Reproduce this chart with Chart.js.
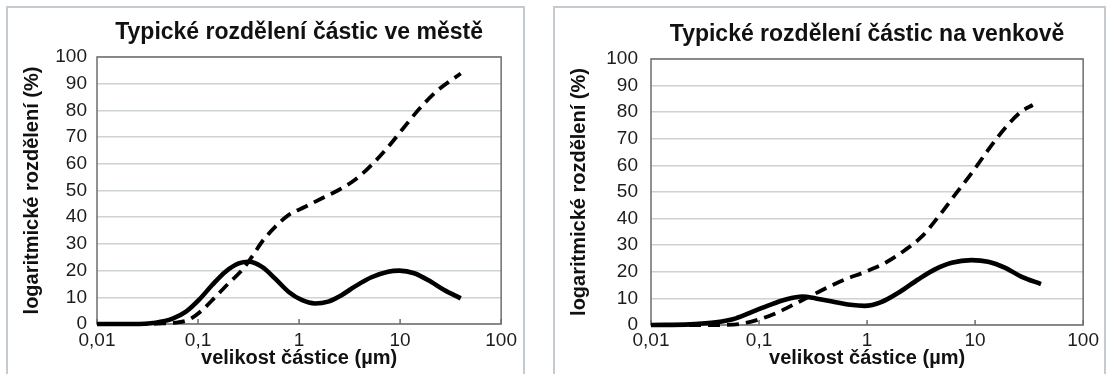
<!DOCTYPE html>
<html lang="cs">
<head>
<meta charset="utf-8">
<title>Typické rozdělení částic</title>
<script src="https://cdn.jsdelivr.net/npm/chart.js@4.4.1/dist/chart.umd.min.js"></script>
<style>
  html, body { margin: 0; padding: 0; background: #ffffff; }
  body { width: 1107px; height: 374px; position: relative; overflow: hidden; }
  .box { position: absolute; box-sizing: border-box; border: 2px solid #c4cbd0; background: #fff; }
  canvas { position: absolute; }
</style>
</head>
<body>
<div class="box" style="left:6px; top:6px; width:519px; height:380px;"></div>
<div class="box" style="left:553px; top:6px; width:553px; height:380px;"></div>
<canvas id="city" width="513" height="365" style="left:9px; top:9px;"></canvas>
<canvas id="country" width="547" height="365" style="left:556px; top:9px;"></canvas>
<script>
// Particle size axis (µm, logarithmic) and its labels
const xTickValues = [0.01, 0.1, 1, 10, 100];
const xTickLabels = ['0,01', '0,1', '1', '10', '100'];

// City: size distribution (solid)
const cityDistSizes  = [0.01, 0.0226, 0.038, 0.056, 0.076, 0.102, 0.138, 0.187, 0.253, 0.318, 0.43, 0.58, 0.785, 1.06, 1.44, 1.94, 2.63, 3.55, 5.2, 7.6, 9.85, 13.8, 20.2, 27.3, 39.8];
const cityDistValues = [0, 0, 0.5, 2, 4.6, 9, 14.6, 19.6, 22.7, 23.3, 21.4, 17, 12.1, 9, 7.7, 8.4, 10.8, 14, 17.5, 19.6, 20, 19, 15.8, 12.7, 9.6];

// City: cumulative distribution (dashed)
const cityCumSizes  = [0.01, 0.03, 0.045, 0.06, 0.082, 0.11, 0.149, 0.2, 0.273, 0.342, 0.43, 0.58, 0.785, 1.15, 1.67, 2.44, 3.55, 5.2, 7.6, 11, 16.1, 23.5, 39.8];
const cityCumValues = [0, 0, 0.2, 0.5, 1.7, 5.2, 10.2, 15.2, 20.2, 25.2, 30.8, 36.4, 40.8, 43.9, 47, 50.1, 53.9, 59.5, 66.3, 73.8, 81.3, 87.5, 93.8];

// Countryside: size distribution (solid)
const countryDistSizes  = [0.01, 0.0229, 0.04, 0.061, 0.0874, 0.1245, 0.177, 0.252, 0.335, 0.477, 0.7, 0.95, 1.35, 2.0, 2.99, 4.25, 6.06, 9.25, 13.2, 18.8, 26.7, 40.7];
const countryDistValues = [0, 0.25, 1, 2.5, 5, 7.5, 9.6, 10.7, 10, 8.8, 7.6, 7.2, 8.6, 12.4, 17.2, 20.9, 23.4, 24.4, 23.8, 21.6, 18.2, 15.4];

// Countryside: cumulative distribution (dashed)
const countryCumSizes  = [0.01, 0.04, 0.066, 0.1, 0.154, 0.219, 0.312, 0.444, 0.63, 0.966, 1.48, 2.25, 3.2, 4.57, 6.5, 9.25, 13.2, 18.8, 26.7, 34.2];
const countryCumValues = [0, 0, 0.4, 2.1, 5, 8.1, 11.3, 14.4, 17.2, 20, 23.4, 28.2, 33.2, 40.7, 48.9, 57, 65.8, 73.9, 80.2, 82.7];

const FONT = "'Liberation Sans', Arial, Helvetica, sans-serif";
Chart.defaults.font.family = FONT;
Chart.defaults.color = '#1c1c1c';

const pairs = (xs, ys) => xs.map((x, i) => ({ x: x, y: ys[i] }));

// Plot frame and short inward tick marks on the size axis
const plotFrame = {
  id: 'plotFrame',
  beforeDatasetsDraw(chart) {
    const { ctx, chartArea: a, scales: { x } } = chart;
    ctx.save();
    ctx.strokeStyle = '#6e6e6e';
    ctx.lineWidth = 1.5;
    ctx.strokeRect(a.left, a.top, a.right - a.left, a.bottom - a.top);
    ctx.beginPath();
    x.ticks.forEach(t => {
      const px = x.getPixelForValue(t.value);
      ctx.moveTo(px, a.bottom);
      ctx.lineTo(px, a.bottom - 5);
    });
    ctx.stroke();
    ctx.restore();
  }
};

function makeChart(id, title, dist, cum, lay) {
  return new Chart(document.getElementById(id), {
    type: 'line',
    data: {
      datasets: [
        {
          data: cum,
          borderColor: '#000',
          borderWidth: 3.8,
          borderDash: [12, 7],
          pointRadius: 0,
          cubicInterpolationMode: 'monotone',
          clip: false
        },
        {
          data: dist,
          borderColor: '#000',
          borderWidth: 4.6,
          pointRadius: 0,
          cubicInterpolationMode: 'monotone',
          clip: false
        }
      ]
    },
    options: {
      responsive: false,
      animation: false,
      events: [],
      layout: { padding: { left: 0, right: lay.right, top: 0, bottom: 0 } },
      plugins: {
        legend: { display: false },
        tooltip: { enabled: false },
        title: {
          display: true,
          text: title,
          fullSize: false,
          color: '#111',
          font: { size: 23, weight: 'bold', family: FONT },
          padding: { top: lay.titleTop, bottom: lay.titleBottom }
        }
      },
      scales: {
        x: {
          type: 'logarithmic',
          min: 0.01,
          max: 100,
          afterBuildTicks: s => { s.ticks = xTickValues.map(v => ({ value: v })); },
          afterFit: s => { s.height = lay.xHeight; },
          grid: { display: false, drawTicks: false },
          border: { display: false },
          ticks: {
            autoSkip: false,
            maxRotation: 0,
            padding: lay.xTickPad,
            color: '#1c1c1c',
            font: { size: 19 },
            callback: v => xTickLabels[xTickValues.indexOf(v)]
          },
          title: {
            display: true,
            text: 'velikost částice (µm)',
            color: '#111',
            font: { size: 20, weight: 'bold' },
            padding: { top: 0, bottom: lay.xTitlePad }
          }
        },
        y: {
          min: 0,
          max: 100,
          afterFit: s => { s.width = lay.yWidth; },
          grid: { color: '#cbd3d7', lineWidth: 1.5, drawTicks: false },
          border: { display: false },
          ticks: {
            stepSize: 10,
            padding: lay.yTickPad,
            color: '#1c1c1c',
            font: { size: 19 }
          },
          title: {
            display: true,
            text: 'logaritmické rozdělení (%)',
            color: '#111',
            font: { size: 20, weight: 'bold' },
            padding: { top: lay.yTitlePad, bottom: 0 }
          }
        }
      }
    },
    plugins: [plotFrame]
  });
}

makeChart('city', 'Typické rozdělení částic ve městě',
  pairs(cityDistSizes, cityDistValues), pairs(cityCumSizes, cityCumValues),
  { right: 19, titleTop: 10.2, titleBottom: 10.2, xHeight: 50, xTickPad: 5, xTitlePad: 4, yWidth: 88, yTickPad: 10, yTitlePad: 11.5 });

makeChart('country', 'Typické rozdělení částic na venkově',
  pairs(countryDistSizes, countryDistValues), pairs(countryCumSizes, countryCumValues),
  { right: 18, titleTop: 12.2, titleBottom: 10.2, xHeight: 49, xTickPad: 4, xTitlePad: 4, yWidth: 95, yTickPad: 13, yTitlePad: 11 });
</script>
</body>
</html>
